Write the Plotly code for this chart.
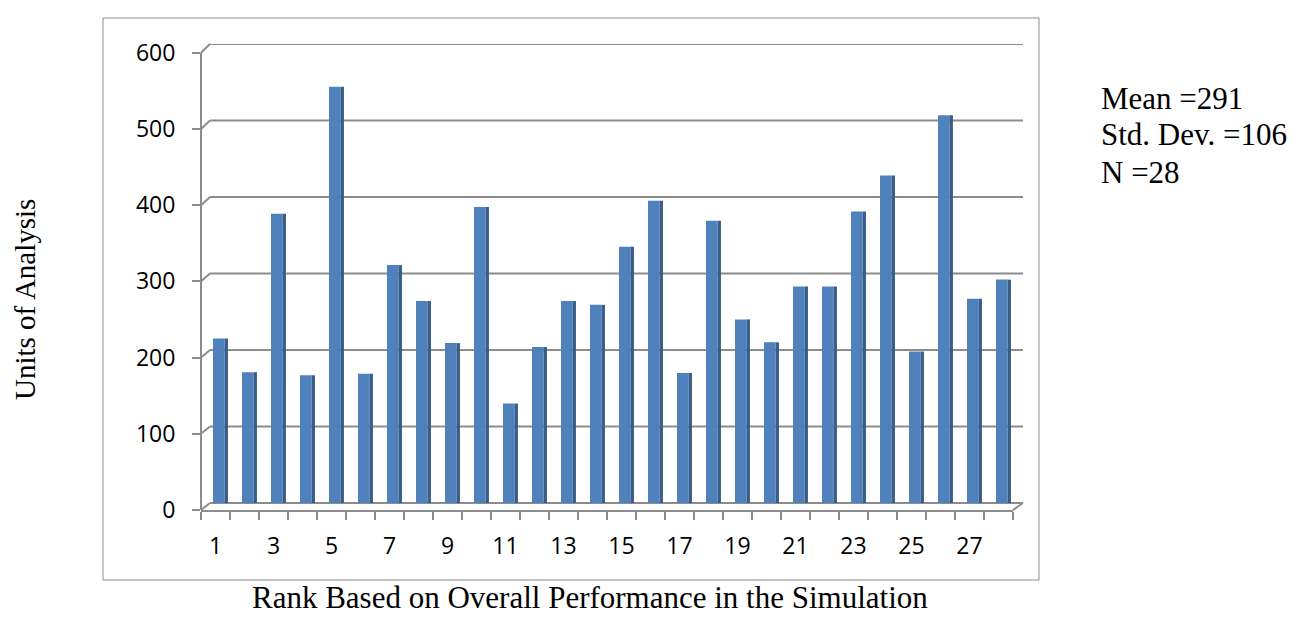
import plotly.graph_objects as go

ranks = list(range(1, 29))
units = [215, 171, 378, 167, 544, 169, 311, 264, 209, 387, 130, 204, 264, 259,
         335, 395, 170, 369, 240, 210, 283, 283, 381, 428, 198, 507, 267, 292]
tick_vals = list(range(1, 29, 2))
tick_text = [str(v) for v in tick_vals]
y_ticks = [0, 100, 200, 300, 400, 500, 600]
stats_text = ["Mean =291", "Std. Dev. =106", "N =28"]

W, H = 1309, 635
L, R, T, B = 201, 1013, 44, 510        # plot area (front frame) in pixels
BACK0, BACK_TOP = 503, 44               # back wall: y pixel of 0 and of 600
FRONT0, FRONT_TOP = 510, 52.7           # front axis: y pixel of 0 and of 600
DEPTH_X = 9                             # horizontal depth offset of the back wall
GRID = "#8C8C8C"

back_k = (BACK0 - BACK_TOP) / 600.0
front_k = (FRONT0 - FRONT_TOP) / 600.0
y_main_range = [-(B - BACK0) / back_k, 600 + (BACK_TOP - T) / back_k]
y_front_range = [-(B - FRONT0) / front_k, 600 + (FRONT_TOP - T) / front_k]


def px(x):
    return (x - L) / (R - L)


def py(y):
    return (B - y) / (B - T)


fig = go.Figure()
# front face of each column
fig.add_trace(go.Bar(x=ranks, y=units, width=0.40, offset=-0.086,
                     marker=dict(color="#4F81BD", line=dict(width=0)),
                     hoverinfo="x+y", showlegend=False))
# darker side face (3D look)
fig.add_trace(go.Bar(x=ranks, y=units, width=0.115, offset=0.314,
                     marker=dict(color="#385D8A", line=dict(width=0)),
                     hoverinfo="skip", showlegend=False))
# invisible trace to activate the front value axis
fig.add_trace(go.Scatter(x=[ranks[0]], y=[0], yaxis="y2", mode="markers",
                         marker=dict(opacity=0), hoverinfo="skip", showlegend=False))

shapes = [
    dict(type="rect", xref="paper", yref="paper", x0=px(103), x1=px(1039),
         y0=py(18), y1=py(580), line=dict(color=GRID, width=1), layer="below"),
    # front value axis line
    dict(type="line", xref="paper", yref="y2", x0=0, x1=0, y0=0, y1=600,
         line=dict(color=GRID, width=2), layer="below"),
    # right floor connector
    dict(type="line", xref="paper", yref="paper", x0=1, x1=px(R + DEPTH_X + 1),
         y0=0, y1=py(BACK0), line=dict(color=GRID, width=2), layer="below"),
]
for v in y_ticks:
    # back-wall gridline
    shapes.append(dict(type="line", xref="paper", yref="y", x0=px(L + DEPTH_X),
                       x1=px(R + DEPTH_X + 1), y0=v, y1=v,
                       line=dict(color=GRID, width=2), layer="below"))
    # left-wall connector from front tick to back gridline
    shapes.append(dict(type="line", xref="paper", yref="paper", x0=0, x1=px(L + DEPTH_X),
                       y0=py(FRONT0 - v * front_k), y1=py(BACK0 - v * back_k),
                       line=dict(color=GRID, width=2), layer="below"))

fig.update_layout(
    width=W, height=H,
    margin=dict(l=L, r=W - R, t=T, b=H - B, pad=0),
    paper_bgcolor="white", plot_bgcolor="white",
    barmode="overlay",
    font=dict(family="Open Sans", size=23, color="black"),
    xaxis=dict(range=[0.5, 28.5], tickmode="array", tickvals=tick_vals, ticktext=tick_text,
               ticks="", showgrid=False, zeroline=False, showline=True,
               linecolor=GRID, linewidth=2, tickfont=dict(size=23),
               ticklabelstandoff=14,
               minor=dict(tick0=0.5, dtick=1, ticks="outside", ticklen=8,
                          tickcolor=GRID, tickwidth=2, showgrid=False)),
    yaxis=dict(range=y_main_range, showgrid=False, zeroline=False, showline=False,
               showticklabels=False, ticks=""),
    yaxis2=dict(range=y_front_range, overlaying="y", side="left", anchor="x",
                tickmode="array", tickvals=y_ticks, showgrid=False, zeroline=False,
                showline=False, ticks="outside", ticklen=8, tickcolor=GRID, tickwidth=2,
                tickfont=dict(size=23), ticklabelstandoff=12),
    shapes=shapes,
    annotations=[
        dict(text="Units of Analysis", xref="paper", yref="paper", x=px(25), y=py(300),
             textangle=-90, showarrow=False, xanchor="center", yanchor="middle",
             font=dict(family="Liberation Serif", size=29)),
        dict(text="Rank Based on Overall Performance in the Simulation", xref="paper",
             yref="paper", x=px(590), y=py(597), showarrow=False, xanchor="center",
             yanchor="middle", font=dict(family="Liberation Serif", size=31)),
    ] + [
        dict(text=t, xref="paper", yref="paper", x=px(1099), y=py(yc), showarrow=False,
             xanchor="left", yanchor="middle", align="left",
             font=dict(family="Liberation Serif", size=31))
        for t, yc in zip(stats_text, [98, 135, 172])
    ],
)

fig.write_html("out.html")
